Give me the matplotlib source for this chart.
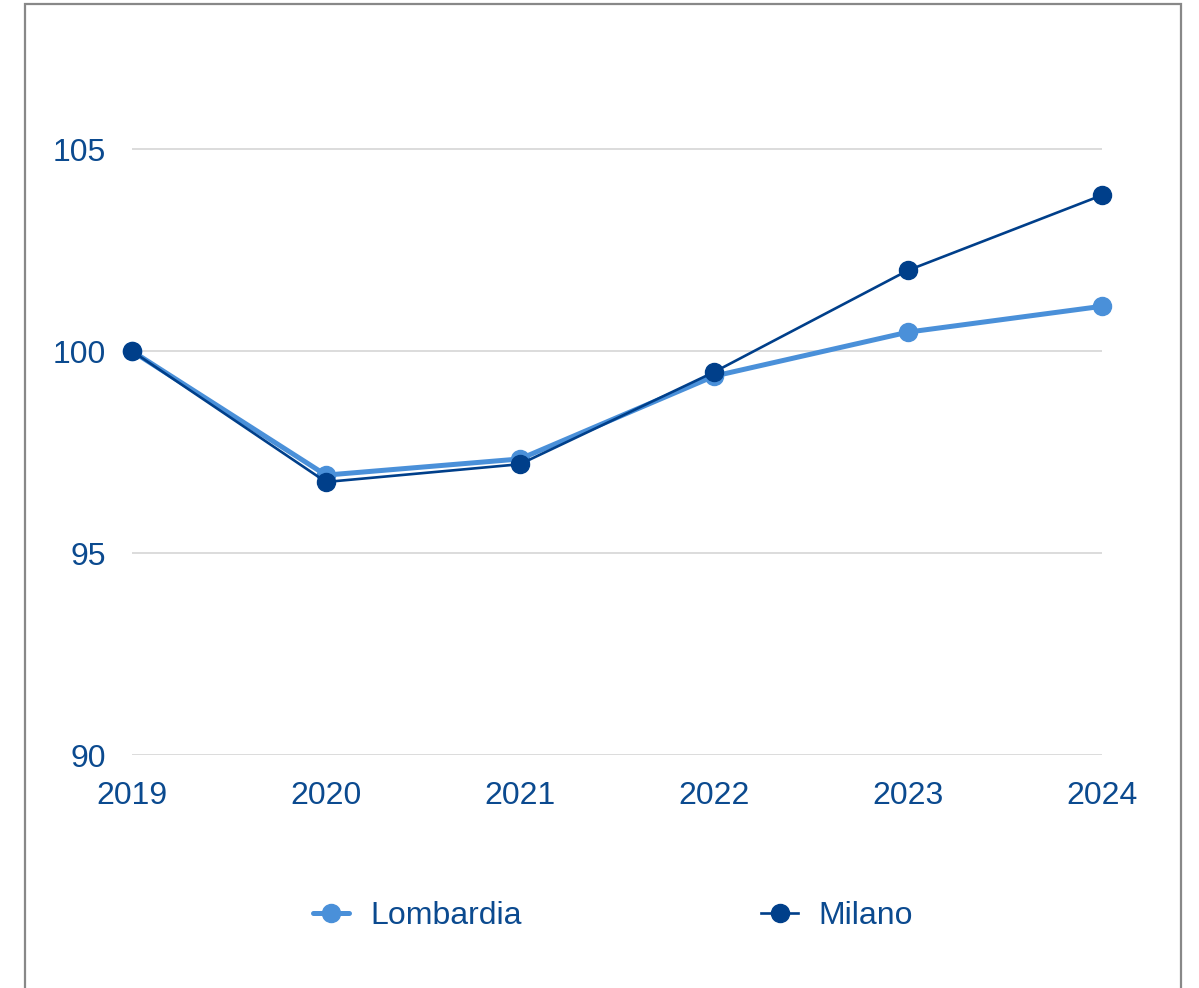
import matplotlib
matplotlib.use("Agg")
import matplotlib.pyplot as plt
from matplotlib.patches import Rectangle

years = [2019, 2020, 2021, 2022, 2023, 2024]
lombardia = [100.0, 96.93, 97.33, 99.38, 100.47, 101.11]
milano = [100.0, 96.76, 97.20, 99.48, 102.00, 103.86]
yticks = [90, 95, 100, 105]

text_col = "#0B4A8F"
c_lomb = "#4A90D9"
c_mil = "#003F8A"

plt.rcParams['font.family'] = ['Liberation Sans', 'DejaVu Sans']

fig = plt.figure(figsize=(11.99, 9.88), dpi=100)
ax = fig.add_axes([132/1199, 233/988, 970/1199, 727/988])

ax.plot(years, lombardia, color=c_lomb, lw=3.6, marker='o', ms=13,
        label='Lombardia', solid_capstyle='round', zorder=3, clip_on=False)
ax.plot(years, milano, color=c_mil, lw=1.9, marker='o', ms=13,
        label='Milano', zorder=4, clip_on=False)

ax.set_xlim(2019, 2024)
ax.set_ylim(90, 108)
ax.set_yticks(yticks)
ax.set_xticks(years)
ax.grid(axis='y', color='#D9D9D9', lw=1.3)
ax.set_axisbelow(True)
for s in ax.spines.values():
    s.set_visible(False)
ax.tick_params(length=0, labelsize=23, colors=text_col)
ax.tick_params(axis='y', pad=19)
ax.tick_params(axis='x', pad=19)
for t in ax.get_xticklabels() + ax.get_yticklabels():
    t.set_clip_on(False)

leg = fig.legend(loc='center', bbox_to_anchor=(613/1199, 1 - 916/988), ncol=2,
                 frameon=False, fontsize=23, handlelength=1.15,
                 handletextpad=0.65, columnspacing=7.5, labelcolor=text_col)

fig.patches.append(Rectangle((24.5/1199, -0.05), (1181-24.5)/1199, 1.05 - 3.5/988,
                             transform=fig.transFigure, fill=False,
                             edgecolor='#888888', lw=1.6))

fig.savefig("out.png", dpi=100)
